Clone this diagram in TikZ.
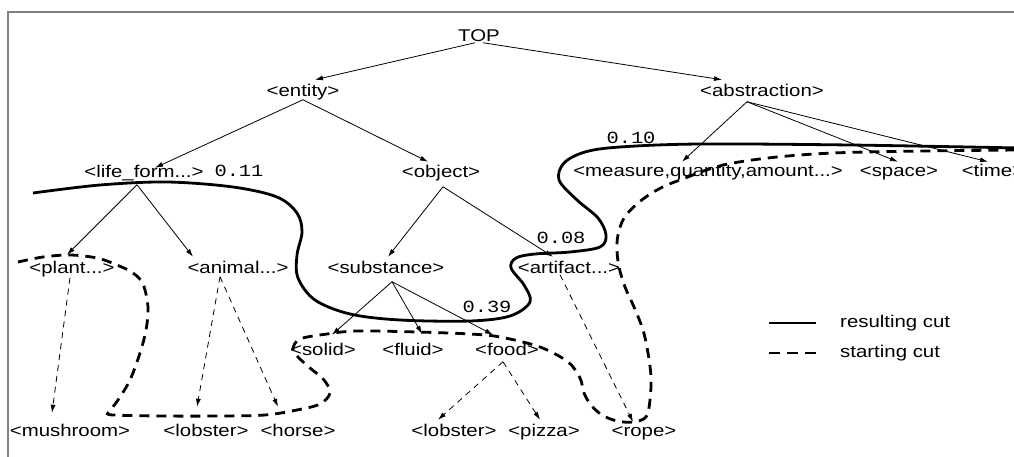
\documentclass[tikz,border=0pt]{standalone}
\usepackage{fontspec}
\setmainfont{Liberation Sans}[FakeStretch=1.2]
\newfontfamily\numfont{Liberation Mono}[FakeStretch=1.2]
\usetikzlibrary{arrows.meta,calc}
\definecolor{framegray}{RGB}{128,128,128}
\begin{document}
\begin{tikzpicture}[x=1pt,y=-1pt,
  lab/.style={inner sep=0pt, font=\fontsize{17}{20}\selectfont, text height=12pt, text depth=3.5pt},
  num/.style={inner sep=0pt, font=\numfont\fontsize{17}{20}\selectfont, text height=12pt, text depth=3.5pt},
  arr/.style={line width=0.8pt, -{Latex[length=8pt,width=5pt]}},
  darr/.style={arr, dash pattern=on 6pt off 5pt},
  cut/.style={line width=2.8pt},
  cutdash/.style={line width=2.8pt, dash pattern=on 10pt off 7pt},
  frameline/.style={line width=1.5pt, draw=framegray}
]
\useasboundingbox (0,0) rectangle (1014,457);
\clip (0,0) rectangle (1014,457);
\fill[white] (0,0) rectangle (1014,457);
\draw[frameline] (8,457) -- (8,12) -- (1014,12);

% nodes
\node[lab] (TOP) at (479,37.75) {TOP};
\node[lab] (entity) at (303,92.75) {<entity>};
\node[lab] (abstraction) at (762,92.75) {<abstraction>};
\node[lab] (life) at (144,173.75) {<life\_form...>};
\node[num] (n11) at (239,172.75) {0.11};
\node[lab] (object) at (441,173.75) {<object>};
\node[lab] (measure) at (708,172.75) {<measure,quantity,amount...>};
\node[lab] (space) at (899,172.75) {<space>};
\node[lab] (time) at (993,172.75) {<time>};
\node[num] (n10) at (631,139.75) {0.10};
\node[lab] (plant) at (72,268.75) {<plant...>};
\node[lab] (animal) at (238,268.75) {<animal...>};
\node[lab] (substance) at (386,268.75) {<substance>};
\node[lab] (artifact) at (569,268.75) {<artifact...>};
\node[num] (n08) at (561,238.75) {0.08};
\node[num] (n39) at (487,307.75) {0.39};
\node[lab] (solid) at (323,350.75) {<solid>};
\node[lab] (fluid) at (413,350.75) {<fluid>};
\node[lab] (food) at (507,350.75) {<food>};
\node[lab] (mushroom) at (70,431.75) {<mushroom>};
\node[lab] (lobsterA) at (206,431.75) {<lobster>};
\node[lab] (horse) at (298,431.75) {<horse>};
\node[lab] (lobsterB) at (454,431.75) {<lobster>};
\node[lab] (pizza) at (544,431.75) {<pizza>};
\node[lab] (rope) at (644,431.75) {<rope>};

% solid arrows
\draw[arr] ($(TOP)+(-4,5)$) -- ($(entity)+(12,-13)$);
\draw[arr] ($(TOP)+(4,5)$) -- ($(abstraction)+(-40,-13)$);
\draw[arr] ($(entity)+(0,7)$) -- ($(life)+(11,-6)$);
\draw[arr] ($(entity)+(0,7)$) -- ($(object)+(-13,-12)$);
\draw[arr] ($(life)+(-7,11)$) -- ($(plant)+(-5,-14)$);
\draw[arr] ($(life)+(-7,11)$) -- ($(animal)+(-45,-12)$);
\draw[arr] ($(object)+(2,13)$) -- ($(substance)+(2,-12)$);
\draw[arr] ($(object)+(2,13)$) -- ($(artifact)+(-16,-12)$);
\draw[arr] ($(abstraction)+(-15,9)$) -- ($(measure)+(-26,-11)$);
\draw[arr] ($(abstraction)+(-15,9)$) -- ($(space)+(-1,-11)$);
\draw[arr] ($(abstraction)+(-15,9)$) -- ($(time)+(-5,-11)$);
\draw[arr] ($(substance)+(6,13)$) -- ($(solid)+(9,-16)$);
\draw[arr] ($(substance)+(6,13)$) -- ($(fluid)+(9,-17)$);
\draw[arr] ($(substance)+(6,13)$) -- ($(food)+(-14,-16)$);

% dashed arrows
\draw[darr] ($(plant)+(-2,9)$) -- ($(mushroom)+(-18,-19)$);
\draw[darr] ($(animal)+(-18,8)$) -- ($(lobsterA)+(-9,-25)$);
\draw[darr] ($(animal)+(-18,8)$) -- ($(horse)+(-20,-25)$);
\draw[darr] ($(food)+(-4,11)$) -- ($(lobsterB)+(-16,-12)$);
\draw[darr] ($(food)+(-4,11)$) -- ($(pizza)+(-4,-12)$);
\draw[darr] ($(artifact)+(-9,6)$) -- ($(rope)+(-11,-10)$);

% resulting cut
\draw[cut] plot[smooth, tension=0.55] coordinates {
 (33,193) (100,185) (167,182) (233,187) (277,197) (297,213) (302,232)
 (297,255) (298,278) (315,300) (350,314) (400,320) (470,321) (510,316)
 (530,302) (524,285) (511,268) (516,258) (535,254) (570,252) (600,247)
 (606,235) (598,218) (577,200) (559,180) (564,163) (585,152) (620,147)
 (700,144) (850,145) (1020,148)};

% starting cut
\draw[cutdash] plot[smooth, tension=0.55] coordinates {
 (18,262) (43,257) (70,255) (97,258) (117,265) (133,273) (143,284)
 (148,307) (146,330) (140,353) (130,380) (118,400) (108,413)}
 -- plot[smooth, tension=0.55] coordinates {
 (108,413) (113,415) (160,416) (220,416) (265,415) (297,410) (320,404)
 (330,393) (324,380) (310,368) (298,357) (293,349) (300,339) (327,334)
 (357,331) (417,332) (470,334) (500,337) (540,347) (568,362) (580,378)
 (584,393) (591,405) (602,415) (617,421) (633,422) (646,417) (650,400)
 (651,377) (648,353) (643,330) (634,307) (625,287) (619,267) (617,250)
 (618,235) (624,218) (638,203) (657,190) (680,180) (733,163) (833,153)
 (1020,150)};

% legend
\coordinate (ls1) at (769,323);
\coordinate (ls2) at (816,323);
\coordinate (ld1) at (769,353);
\coordinate (ld2) at (816,353);
\draw[cut] (ls1) -- (ls2);
\draw[line width=2.8pt, dash pattern=on 11pt off 7pt] (ld1) -- (ld2);
\node[lab, anchor=west] (legres) at (840,322.75) {resulting cut};
\node[lab, anchor=west] (legstart) at (840,352.75) {starting cut};
\end{tikzpicture}
\end{document}
